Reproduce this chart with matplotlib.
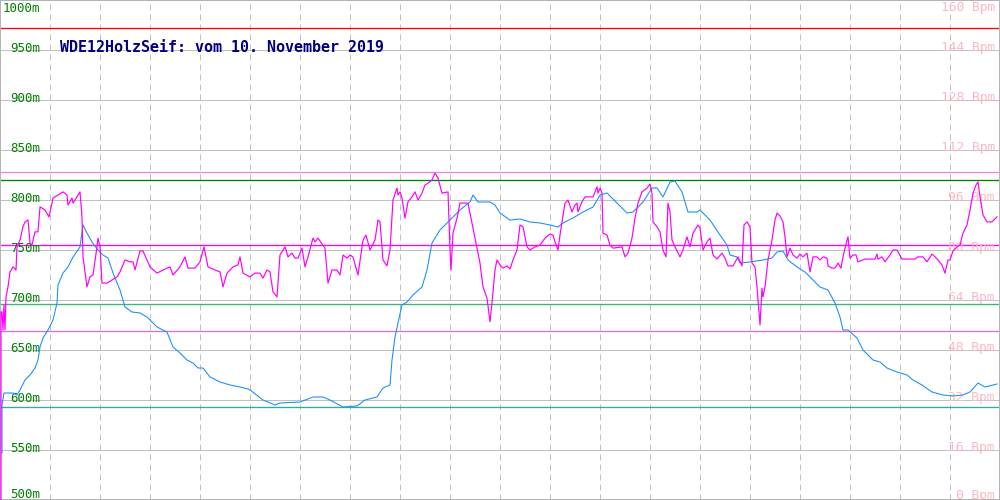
""" Altitude and heart rate profile """

import matplotlib
matplotlib.use('Agg')
import matplotlib.pyplot as plt

TITLE = 'WDE12HolzSeif: vom 10. November 2019'

# altitude track (blue), x in track position 0..1000, metres
ALT_X = [2, 2, 4, 13, 17, 20, 25, 30, 35, 38, 40, 43, 48, 53, 57, 58, 63, 68, 73,
         80, 83, 87, 92, 98, 103, 108, 113, 120, 125, 132, 140, 147, 157, 167,
         173, 180, 187, 193, 198, 203, 210, 220, 230, 240, 248, 250, 263, 275,
         280, 300, 313, 323, 330, 343, 357, 365, 377, 383, 390, 392, 395, 398,
         402, 407, 413, 422, 427, 432, 440, 450, 460, 470, 473, 478, 490, 495,
         500, 510, 520, 530, 540, 550, 558, 563, 573, 583, 593, 600, 607, 617,
         627, 633, 643, 652, 657, 663, 670, 675, 682, 688, 697, 700, 710, 720,
         727, 730, 737, 740, 750, 763, 772, 777, 783, 788, 797, 805, 813, 820,
         828, 835, 840, 843, 848, 857, 863, 873, 880, 887, 897, 907, 913, 922,
         932, 943, 953, 963, 970, 978, 985, 997]
ALT_M = [547, 595, 607, 607, 605, 610, 620, 625, 632, 640, 653, 662, 670, 680, 697,
         715, 727, 733, 743, 753, 775, 767, 758, 750, 745, 742, 727, 710, 693,
         688, 687, 683, 673, 668, 653, 647, 640, 637, 632, 632, 623, 618, 615,
         613, 611, 610, 600, 595, 597, 598, 603, 603, 600, 593, 594, 600, 603,
         612, 615, 640, 663, 677, 695, 698, 705, 713, 730, 757, 770, 780, 790,
         798, 805, 798, 798, 795, 787, 780, 781, 778, 777, 775, 773, 777, 782,
         788, 793, 805, 807, 797, 787, 788, 798, 812, 812, 803, 818, 819, 808,
         788, 788, 790, 780, 765, 755, 745, 743, 737, 738, 740, 742, 748, 749,
         740, 733, 728, 720, 713, 710, 697, 683, 670, 670, 662, 650, 640, 638,
         632, 628, 625, 620, 615, 608, 605, 604, 605, 608, 617, 613, 616]

# heart rate (magenta), Bpm
HR_X = [1, 1, 2, 3, 4, 5, 6, 8, 10, 13, 16, 17, 20, 23, 25, 28, 30, 32, 35, 38,
        40, 45, 49, 53, 58, 63, 67, 68, 72, 73, 77, 80, 82, 83, 87, 90, 93, 97,
        98, 100, 102, 107, 112, 117, 120, 125, 130, 133, 135, 140, 143, 150,
        157, 163, 170, 173, 180, 185, 188, 195, 200, 204, 208, 215, 220, 223,
        227, 233, 238, 240, 243, 250,
        255, 260, 263, 267, 270, 273, 277, 280, 285, 288, 292, 295, 298, 302,
        305, 308, 313, 315, 318, 325, 328, 332, 337, 340, 343, 347, 350, 353,
        358, 363, 366, 370, 375, 378, 380, 383, 387, 390, 393, 397, 398, 400,
        402, 405, 408, 412, 415, 418, 422, 425, 428, 432, 435, 438, 442, 448,
        450, 451, 453, 457, 460, 468, 472, 477, 480, 483, 487, 490, 492, 495,
        497, 500,
        503, 507, 510, 513, 517, 520, 523, 527, 530, 535, 540, 545, 550, 553,
        555, 558, 560, 562, 565, 568, 572, 575, 577, 578, 582, 585, 593, 597,
        598, 600, 602, 603, 607, 610, 613, 622, 625, 628, 632, 635, 638, 642,
        647, 650, 652, 653, 657, 660, 663, 666, 668, 670, 672, 675, 680, 683,
        687, 690, 693, 698, 700, 703, 707, 710, 713, 717, 722, 725, 728, 733,
        738, 742, 744, 747, 750,
        752, 755, 757, 758, 760, 762, 763, 765, 768, 772, 775, 777, 780, 783,
        785, 787, 790, 793, 797, 800, 803, 807, 810, 813, 817, 820, 823, 827,
        828, 832, 835, 838, 841, 843, 847, 848, 850, 853, 856, 858, 865, 875,
        877, 878, 882, 885, 890, 893, 897, 902, 915, 918, 923, 927, 932, 935,
        938, 942, 945, 948, 950, 953, 957, 960, 963, 967, 970, 973, 976, 978,
        980, 983, 987, 992, 997]
HR_BPM = [0.0, 60.2, 60.2, 54.4, 62.4, 54.4, 65.0, 68.2, 73.0, 74.6, 73.6, 81.0,
          83.2, 87.4, 89.0, 89.6, 82.2, 81.6, 85.8, 85.8, 93.8, 92.8, 90.6, 96.6,
          97.6, 98.6, 97.6, 94.4, 96.6, 95.0, 97.0, 98.6, 90.6, 77.8, 68.2, 71.4,
          72.0, 81.0, 83.8, 81.0, 69.4, 69.4, 70.4, 71.4, 73.0, 76.8, 76.2, 76.2,
          73.6, 79.7, 79.7, 74.6, 72.6, 73.6, 74.6, 72.0, 74.6, 77.8, 74.2, 74.2,
          76.2, 81.0, 74.6, 73.6, 73.0, 68.2, 72.6, 74.6, 75.2, 77.8, 72.6, 71.4,
          72.6, 72.6, 71.0, 73.6, 73.0, 66.6, 65.0, 78.4, 81.0, 77.8, 79.0, 77.4,
          77.4, 80.6, 74.6, 77.8, 83.8, 82.6, 83.8, 80.6, 69.4, 73.6, 73.6, 72.0,
          78.4, 77.4, 78.4, 77.8, 72.0, 83.2, 84.8, 80.0, 83.2, 89.6, 89.0, 76.8,
          74.9, 80.0, 96.0, 99.8, 97.6, 98.6, 96.6, 90.2, 95.4, 97.0, 98.6, 96.0,
          98.2, 100.8, 101.4, 102.4, 104.6, 103.0, 98.2, 98.6, 80.0, 73.6, 85.4,
          90.2, 95.0, 95.0, 88.6, 80.6, 75.8, 68.2, 64.6, 57.0, 63.0, 73.6, 76.8,
          75.2,
          74.2, 74.9, 73.9, 76.8, 80.0, 88.0, 87.4, 81.0, 80.0, 81.0, 81.6, 83.8,
          85.1, 84.8, 82.6, 80.0, 84.8, 89.0, 95.0, 96.0, 92.2, 94.4, 95.0, 92.2,
          95.4, 97.0, 97.0, 100.2, 98.2, 99.8, 98.2, 85.4, 84.8, 81.6, 80.6, 81.0,
          77.8, 79.0, 83.8, 90.2, 95.0, 98.6, 99.8, 101.1, 98.2, 89.0, 87.4, 85.8,
          80.0, 77.8, 95.0, 92.2, 83.2, 81.0, 77.8, 80.0, 84.2, 81.0, 85.4, 88.0,
          87.0, 80.0, 82.6, 83.8, 78.4, 77.1, 79.0, 77.4, 74.9, 74.9, 77.8, 74.9,
          88.0, 89.0, 87.4,
          75.8, 74.6, 68.2, 64.0, 56.0, 67.8, 65.0, 68.2, 76.8, 83.2, 89.6, 91.8,
          90.9, 89.0, 84.2, 77.8, 80.6, 78.4, 77.4, 78.7, 77.8, 79.0, 73.0, 77.8,
          77.8, 76.8, 77.8, 77.4, 74.9, 74.2, 74.2, 75.8, 74.2, 77.8, 83.2, 84.2,
          77.4, 78.4, 78.4, 76.2, 77.1, 77.1, 78.7, 77.1, 77.8, 76.2, 78.4, 80.0,
          80.0, 77.1, 77.1, 77.8, 77.8, 76.2, 78.7, 77.8, 76.8, 75.2, 72.6, 76.8,
          76.8, 79.7, 81.0, 81.6, 85.4, 88.0, 92.8, 98.2, 100.8, 101.8, 97.0, 91.2,
          89.0, 89.0, 90.6]

# reference lines (metres) and their colours
REF_LEVELS = [972, 828, 820, 755, 696, 669, 593]
REF_COLORS = ['#ff0000', '#ee82ee', '#008000', '#ff00ff', '#3cb371', '#da70d6', '#20b2aa']

ALT_TICKS = [1000, 950, 900, 850, 800, 750, 700, 650, 600, 550, 500]
BPM_TICKS = [160, 144, 128, 112, 96, 80, 64, 48, 32, 16, 0]

PX = 0.72  # one pixel in points at dpi 100

fig = plt.figure(figsize=(10, 5), dpi=100)
ax = fig.add_axes([0, 0, 1, 1])
ax.set_xlim(0, 1000)
ax.set_ylim(500, 1000)
ax.set_xticks([])
ax.set_yticks([])
for s in ax.spines.values():
    s.set_color('#b4b4b4')
    s.set_linewidth(2 * PX)

for t in ALT_TICKS:
    ax.axhline(t, color='#c0c0c0', lw=PX, zorder=1)
for x in range(50, 1000, 50):
    ax.axvline(x, color='#c0c0c0', lw=PX, dashes=(6, 4), zorder=1)

for lvl, col in zip(REF_LEVELS, REF_COLORS):
    ax.axhline(lvl, color=col, lw=1.3 * PX, zorder=2)

# tick labels drawn inside the frame
for a, b in zip(ALT_TICKS, BPM_TICKS):
    ty = a + 2
    if a == 1000:
        ty = 992
    elif a == 500:
        ty = 505
    ax.text(40, ty, f'{a}m', color='#008000', family='DejaVu Sans Mono',
            fontsize=9, ha='right', va='center', zorder=3)
    ax.text(995, ty, f'{b} Bpm', color='#ffb6c1', family='DejaVu Sans Mono',
            fontsize=9.3, ha='right', va='center', zorder=3)

ax.plot(ALT_X, ALT_M, color='#1e90ff', lw=PX * 1.1, zorder=4)

hr = ax.twinx()
hr.set_ylim(0, 160)
hr.set_yticks([])
hr.set_axis_off()
hr.plot(HR_X, HR_BPM, color='#ff00ff', lw=PX * 1.2, zorder=5)

ax.text(60, 952, TITLE, color='#000080', family='DejaVu Sans Mono',
        fontsize=10.8, fontweight='bold', ha='left', va='center', zorder=6)

fig.savefig('out.png', dpi=100, facecolor='white')
